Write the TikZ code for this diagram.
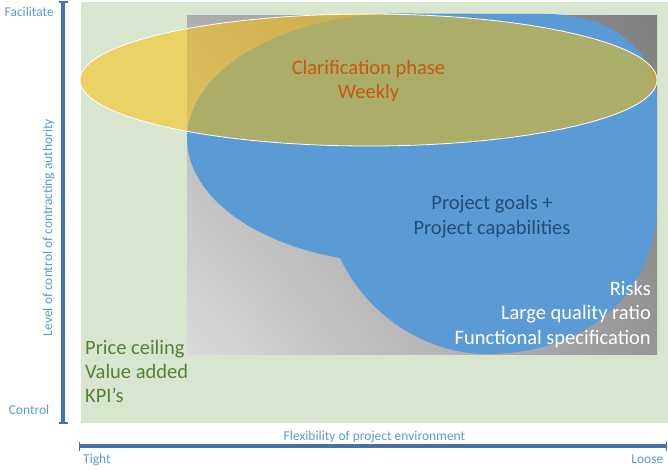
\documentclass[tikz,border=0pt]{standalone}
\usepackage{fontspec}
\setmainfont{Carlito}
\usetikzlibrary{arrows.meta,shadings}
\definecolor{bgGreen}{RGB}{216,230,207}
\definecolor{shapeBlue}{RGB}{91,155,213}
\definecolor{goldY}{RGB}{255,192,0}
\definecolor{orangeT}{RGB}{197,90,17}
\definecolor{navyT}{RGB}{31,78,121}
\definecolor{greenT}{RGB}{84,130,53}
\definecolor{axisT}{RGB}{91,155,213}
\definecolor{axisL}{RGB}{68,114,170}
\tikzset{
  bigtxt/.style={inner sep=0pt, font=\fontsize{20.5}{24}\selectfont},
  smalltxt/.style={inner sep=0pt, text=axisT, font=\fontsize{13.5}{16}\selectfont},
  axisline/.style={draw=axisL, line width=4.5pt, {Bar[width=9pt,line width=1.5pt]}-{Bar[width=9pt,line width=1.5pt]}}
}
\begin{document}
\begin{tikzpicture}[x=1pt,y=-1pt]
\useasboundingbox (0,0) rectangle (668,469);
% background field
\fill[bgGreen] (81,2) rectangle (668,423);
% gray gradient rectangle
\shade[shading=bilinear interpolation,
  lower left={rgb,255:red,218;green,218;blue,218},
  upper left={rgb,255:red,175;green,175;blue,175},
  lower right={rgb,255:red,150;green,150;blue,150},
  upper right={rgb,255:red,127;green,127;blue,127}]
  (187,15) rectangle (657,354);
% blue blob
\fill[shapeBlue] (340,258) arc[start angle=107, end angle=270, x radius=216, y radius=125]
  -- (545,14) .. controls (612,14) and (657,50) .. (657,105)
  -- (657,200) .. controls (657,300) and (580,354) .. (487,354)
  .. controls (430,354) and (370,320) .. (340,258) -- cycle;
% yellow ellipse
\draw[white, line width=0.8pt, fill=goldY, fill opacity=0.5] (368.5,80) ellipse [x radius=288.5, y radius=66];
% texts
\node[bigtxt, text=orangeT, anchor=base] (cp1) at (368.5,74) {Clarification phase};
\node[bigtxt, text=orangeT, anchor=base] (cp2) at (368.5,98.5) {Weekly};
\node[bigtxt, text=navyT, anchor=base] (pg1) at (492,209) {Project goals +};
\node[bigtxt, text=navyT, anchor=base] (pg2) at (492,234) {Project capabilities};
\node[bigtxt, text=white, anchor=base east] (r1) at (651,295) {Risks};
\node[bigtxt, text=white, anchor=base east] (r2) at (651,319.5) {Large quality ratio};
\node[bigtxt, text=white, anchor=base east] (r3) at (651,344) {Functional specification};
\node[bigtxt, text=greenT, anchor=base west] (g1) at (85,354) {Price ceiling};
\node[bigtxt, text=greenT, anchor=base west] (g2) at (85,378.3) {Value added};
\node[bigtxt, text=greenT, anchor=base west] (g3) at (85,402.7) {KPI’s};
% axes
\coordinate (vtop) at (63,1);
\coordinate (vbot) at (63,423.5);
\coordinate (hl) at (78.5,446);
\coordinate (hr) at (667,446);
\draw[axisline] (vtop) -- (vbot);
\draw[axisline, line width=4pt] (hl) -- (hr);
\node[smalltxt, anchor=base east] (fac) at (54,16.7) {Facilitate};
\node[smalltxt, anchor=base east] (ctl) at (49.5,414) {Control};
\node[smalltxt, anchor=base, rotate=90] (lvl) at (52,227.5) {Level of control of contracting authority};
\node[smalltxt, anchor=base] (flx) at (374.5,440) {Flexibility of project environment};
\node[smalltxt, anchor=base west] (tgt) at (83,463) {Tight};
\node[smalltxt, anchor=base east] (lse) at (663.5,463) {Loose};
\end{tikzpicture}
\end{document}
